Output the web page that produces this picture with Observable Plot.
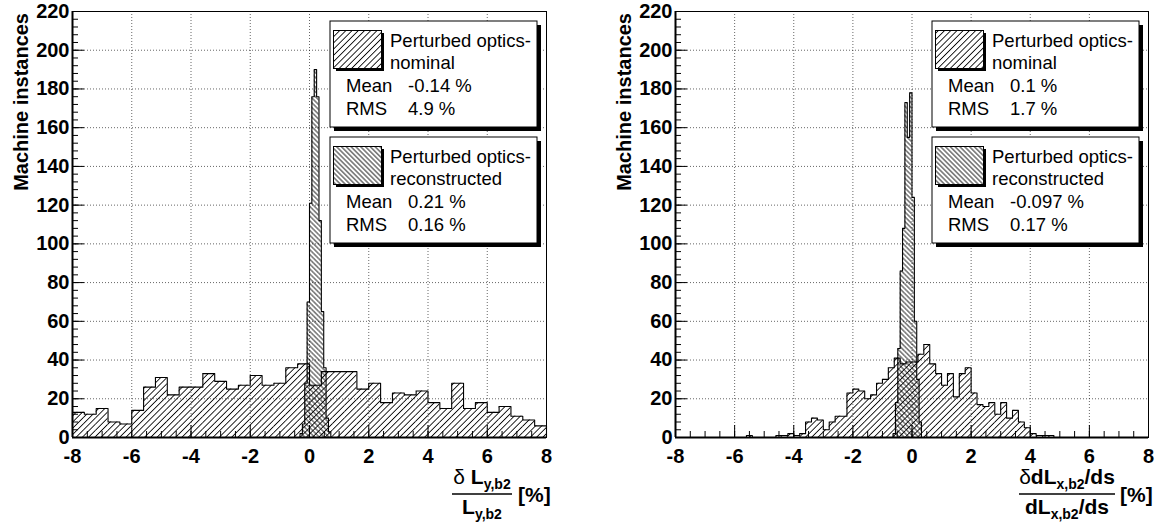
<!DOCTYPE html>
<html><head><meta charset="utf-8">
<script src="https://cdn.jsdelivr.net/npm/d3@7"></script>
<script src="https://cdn.jsdelivr.net/npm/@observablehq/plot@0.6"></script>
<style>
html,body{margin:0;padding:0;background:#fff;}
#wrap{display:flex;width:1157px;height:527px;overflow:hidden;}
svg text{font-family:"Liberation Sans",Arial,Helvetica,sans-serif;}
</style></head><body><div id="wrap"></div>
<script>
// ---- axis ticks ----
const xDomain = [-8, 8];
const yDomain = [0, 220];
const xMajor = [-8, -6, -4, -2, 0, 2, 4, 6, 8];
const xMinor = d3.range(-8, 8.001, 0.5);
const yMajor = [0, 20, 40, 60, 80, 100, 120, 140, 160, 180, 200, 220];
const yMinor = d3.range(0, 220.001, 4);

// ---- left panel: delta L_y,b2 / L_y,b2 ----
const nomLeftStart = -8, nomLeftWidth = 0.4;
const nomLeft = [13,12,15,8,7,14,26,31,22,26,26,33,29,25,27,32,27,28,36,38,
                 27,34,34,34,25,28,18,23,22,24,18,15,28,15,18,13,16,11,9,6];
const recLeftStart = -0.32, recLeftWidth = 0.08;
const recLeft = [2,7,28,70,121,176,190,176,112,65,36,10,3];
const statsLeftNominal = ["-0.14 %", "4.9 %"];
const statsLeftRecon = ["0.21 %", "0.16 %"];

// ---- right panel: delta dL_x,b2/ds / dL_x,b2/ds ----
const nomRightStart = -8, nomRightWidth = 0.2;
const nomRight = [0,0,0,0,0,0,0,0,0,0,0,0,1,0,0,0,0,1,1,2,
                  1,2,8,10,9,4,8,11,11,23,25,24,20,22,28,30,36,41,38,39,
                  39,43,48,38,33,27,33,21,33,36,23,17,16,18,12,18,10,14,8,5,
                  2,1,1,1,0,0,0,0,0,0,0,0,0,0,0,0,0,0,0,0];
const recRightStart = -0.64, recRightWidth = 0.08;
const recRight = [2,18,46,86,108,173,155,178,124,60,30,8];
const statsRightNominal = ["0.1 %", "1.7 %"];
const statsRightRecon = ["-0.097 %", "0.17 %"];

const legendTitle = "Perturbed optics-";
const legendNames = ["nominal", "reconstructed"];
const statNames = ["Mean", "RMS"];
const yLabel = "Machine instances";

function toBins(counts, start, w) {
  return counts.map((c, i) => ({x0: start + i * w, x1: start + (i + 1) * w, c}));
}
function outline(bins) {
  const pts = [{x: bins[0].x0, y: 0}];
  bins.forEach(b => { pts.push({x: b.x0, y: b.c}); pts.push({x: b.x1, y: b.c}); });
  pts.push({x: bins[bins.length - 1].x1, y: 0});
  return pts;
}

function makePanel(cfg) {
  const {id, width, marginLeft, marginRight, nom, nomStart, nomWidth, rec, recStart, recWidth,
         statsNom, statsRec, labelFn} = cfg;
  const height = 527, marginTop = 11, marginBottom = 90;
  const plotW = width - marginLeft - marginRight;
  const plotH = height - marginTop - marginBottom;
  const nomBins = toBins(nom, nomStart, nomWidth);
  const recBins = toBins(rec, recStart, recWidth);
  const tickFont = {fontSize: 20, fontWeight: "bold"};
  const svg = Plot.plot({
    width, height, marginLeft, marginRight, marginTop, marginBottom,
    x: {domain: xDomain}, y: {domain: yDomain},
    style: {background: "white", fontFamily: "Liberation Sans, Arial, sans-serif", color: "#000", overflow: "visible"},
    marks: [
      Plot.gridX(xMajor, {stroke: "#000", strokeOpacity: 0.6, strokeDasharray: "1,2"}),
      Plot.gridY(yMajor, {stroke: "#000", strokeOpacity: 0.6, strokeDasharray: "1,2"}),
      Plot.rectY(nomBins, {x1: "x0", x2: "x1", y: "c", fill: `url(#nom-${id})`}),
      Plot.rectY(recBins, {x1: "x0", x2: "x1", y: "c", fill: `url(#rec-${id})`}),
      Plot.line(outline(nomBins), {x: "x", y: "y", stroke: "#000", strokeWidth: 1.1}),
      Plot.line(outline(recBins), {x: "x", y: "y", stroke: "#000", strokeWidth: 1.1}),
      Plot.frame({stroke: "#000", strokeWidth: 1}),
      Plot.ruleX(xMinor, {x: d => d, insetTop: plotH - 6, stroke: "#000", strokeWidth: 1}),
      Plot.ruleX(xMajor, {x: d => d, insetTop: plotH - 12, stroke: "#000", strokeWidth: 1}),
      Plot.ruleY(yMinor, {y: d => d, insetRight: plotW - 6, stroke: "#000", strokeWidth: 1}),
      Plot.ruleY(yMajor, {y: d => d, insetRight: plotW - 12, stroke: "#000", strokeWidth: 1}),
      Plot.ruleX([xDomain[0]], {stroke: "#000", strokeWidth: 2}),
      Plot.ruleY([yDomain[0]], {stroke: "#000", strokeWidth: 2}),
      Plot.axisX(xMajor, {tickSize: 0, tickPadding: 11, tickFormat: d => String(d), label: null, ...tickFont}),
      Plot.axisY(yMajor, {tickSize: 0, tickPadding: 3, tickFormat: d => String(d), label: null, ...tickFont})
    ]
  });
  const s = d3.select(svg);
  const defs = s.insert("defs", ":first-child");
  function hatch(pid, angle, sp) {
    const p = defs.append("pattern").attr("id", pid).attr("patternUnits", "userSpaceOnUse")
      .attr("width", sp).attr("height", sp).attr("patternTransform", `rotate(${angle})`);
    p.append("line").attr("x1", sp / 2).attr("y1", -1).attr("x2", sp / 2).attr("y2", sp + 1)
      .attr("stroke", "#000").attr("stroke-width", 0.85);
  }
  hatch(`nom-${id}`, 45, 4.4);
  hatch(`rec-${id}`, -45, 3.4);

  // y label
  s.append("text").attr("transform", `translate(${marginLeft - 44},13) rotate(-90)`)
    .attr("text-anchor", "end").attr("font-size", 20).attr("font-weight", "bold").text(yLabel);

  // legends
  const plotRight = width - marginRight;
  const bx = plotRight - 216, bw = 207, bh = 106;
  [[0, 21, `nom-${id}`, statsNom], [1, 137, `rec-${id}`, statsRec]].forEach(([k, by, pat, stats]) => {
    const g = s.append("g").attr("text-anchor", "start");
    g.append("rect").attr("x", bx + 4).attr("y", by + 4).attr("width", bw).attr("height", bh).attr("fill", "#000");
    g.append("rect").attr("x", bx).attr("y", by).attr("width", bw).attr("height", bh)
      .attr("fill", "#fff").attr("stroke", "#000").attr("stroke-width", 1);
    g.append("rect").attr("x", bx + 6).attr("y", by + 12).attr("width", 48).attr("height", 38).attr("fill", "#000");
    g.append("rect").attr("x", bx + 3.5).attr("y", by + 9.5).attr("width", 48).attr("height", 38)
      .attr("fill", "#fff").attr("stroke", "#000").attr("stroke-width", 1);
    g.append("rect").attr("x", bx + 3.5).attr("y", by + 9.5).attr("width", 48).attr("height", 38)
      .attr("fill", `url(#${pat})`).attr("stroke", "#000").attr("stroke-width", 1);
    const t = (x, y, str) => g.append("text").attr("x", x).attr("y", y).attr("text-anchor", "start")
      .attr("font-size", 18.5).text(str);
    t(bx + 60, by + 26, legendTitle);
    t(bx + 60, by + 48, legendNames[k]);
    t(bx + 16, by + 71, statNames[0]);
    t(bx + 78, by + 71, stats[0]);
    t(bx + 16, by + 94, statNames[1]);
    t(bx + 78, by + 94, stats[1]);
  });

  labelFn(s);
  return svg;
}

function fracLabel(s, cx, x0, x1, num, den, pctX) {
  const mk = (parts, y) => {
    const t = s.append("text").attr("x", cx).attr("y", y).attr("text-anchor", "middle")
      .attr("font-weight", "bold").attr("font-size", 21);
    parts.forEach(([str, kind]) => {
      const sp = t.append("tspan").text(str);
      if (kind === "greek") sp.attr("font-weight", "normal");
      if (kind === "sub") sp.attr("font-size", 14).attr("dy", 5);
      if (kind === "after") sp.attr("dy", -5);
    });
  };
  mk(num, 484);
  s.append("line").attr("x1", x0).attr("x2", x1).attr("y1", 494).attr("y2", 494)
    .attr("stroke", "#000").attr("stroke-width", 1.5);
  mk(den, 514);
  s.append("text").attr("x", pctX).attr("y", 502).attr("text-anchor", "start")
    .attr("font-weight", "bold").attr("font-size", 21).text("[%]");
}

const wrap = document.getElementById("wrap");
wrap.appendChild(makePanel({
  id: "L", width: 580, marginLeft: 72, marginRight: 34,
  nom: nomLeft, nomStart: nomLeftStart, nomWidth: nomLeftWidth,
  rec: recLeft, recStart: recLeftStart, recWidth: recLeftWidth,
  statsNom: statsLeftNominal, statsRec: statsLeftRecon,
  labelFn: s => fracLabel(s, 482, 452, 512,
    [["δ", "greek"], [" L", ""], ["y,b2", "sub"]],
    [["L", ""], ["y,b2", "sub"]], 518)
}));
wrap.appendChild(makePanel({
  id: "R", width: 577, marginLeft: 95, marginRight: 9,
  nom: nomRight, nomStart: nomRightStart, nomWidth: nomRightWidth,
  rec: recRight, recStart: recRightStart, recWidth: recRightWidth,
  statsNom: statsRightNominal, statsRec: statsRightRecon,
  labelFn: s => fracLabel(s, 487, 439, 535,
    [["δ", "greek"], ["dL", ""], ["x,b2", "sub"], ["/ds", "after"]],
    [["dL", ""], ["x,b2", "sub"], ["/ds", "after"]], 540)
}));
</script></body></html>
